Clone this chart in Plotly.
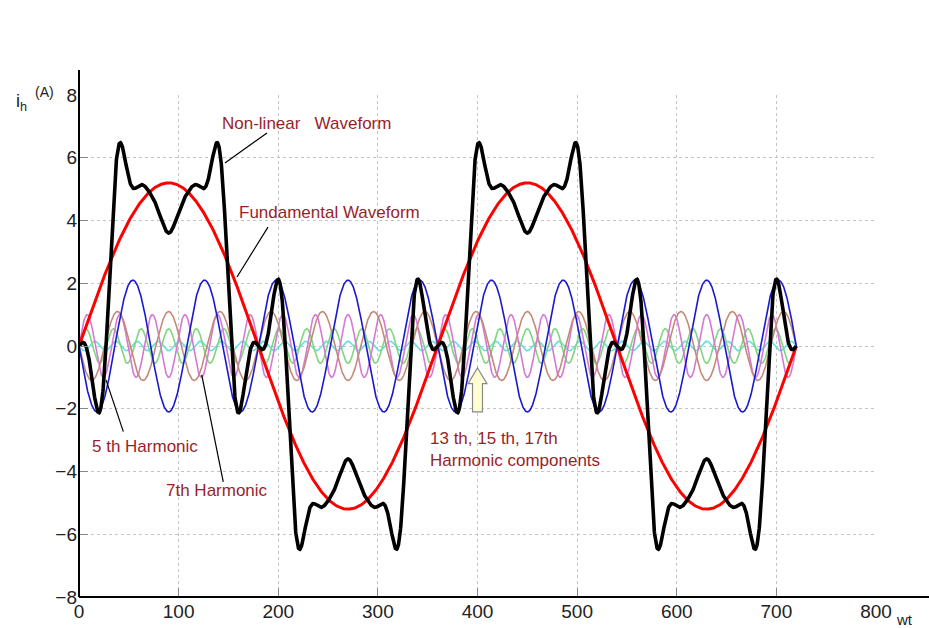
import numpy as np
import plotly.graph_objects as go

# ---- data ----
# harmonic orders and peak amplitudes (A); sign gives the phase (sin / -sin)
harmonic_orders = [1, 5, 7, 11, 13, 17]
harmonic_amplitudes = [5.2, -2.1, -1.1, 1.0, 0.55, -0.15]
harmonic_colors = ["#ff0000", "#1a1acc", "#c48a78", "#d47ad4", "#7fd67f", "#66dede"]
harmonic_widths = [3, 1.6, 1.6, 1.6, 1.6, 1.6]

wt_max = 720
x_ticks = [0, 100, 200, 300, 400, 500, 600, 700, 800]
y_ticks = [-8, -6, -4, -2, 0, 2, 4, 6, 8]

wt = np.linspace(0, wt_max, 2881)
components = [a * np.sin(n * np.radians(wt)) for n, a in zip(harmonic_orders, harmonic_amplitudes)]
nonlinear = np.sum(components, axis=0)

fig = go.Figure()
order = [5, 4, 3, 2, 1, 0]
for i in order:
    fig.add_trace(go.Scatter(x=wt, y=components[i], mode="lines",
                             line=dict(color=harmonic_colors[i], width=harmonic_widths[i]),
                             hoverinfo="skip", showlegend=False))
fig.add_trace(go.Scatter(x=wt, y=nonlinear, mode="lines",
                         line=dict(color="black", width=3.6), showlegend=False))

txt = "#9a1e28"
FAM = "Liberation Sans, Arial"
font = dict(family=FAM, size=17, color=txt)
ann = [
    dict(x=228, y=7.08, text="Non-linear   Waveform"),
    dict(x=251, y=4.27, text="Fundamental Waveform"),
    dict(x=66, y=-3.19, text="5 th Harmonic"),
    dict(x=138.5, y=-4.62, text="7th Harmonic"),
]
for a in ann:
    fig.add_annotation(x=a["x"], y=a["y"], text=a["text"], showarrow=False,
                       font=font, xanchor="center", yanchor="middle")
fig.add_annotation(x=350.3, y=-3.3, text="13 th, 15 th, 17th<br>Harmonic components",
                   showarrow=False, font=font, xanchor="left", yanchor="middle", align="left")

# pointer lines
for (x0, y0, x1, y1) in [(146.5, 5.83, 188.7, 6.79), (158.6, 2.20, 189.7, 3.79),
                         (27.1, -1.08, 44.5, -2.73), (123.2, -0.92, 144.8, -4.33)]:
    fig.add_shape(type="line", x0=x0, y0=y0, x1=x1, y1=y1, line=dict(color="black", width=1.2))

# block arrow
fig.add_shape(type="path",
              path="M 400,-0.7 L 409.5,-1.2 L 405,-1.2 L 405,-2.1 L 395,-2.1 L 395,-1.2 L 390.5,-1.2 Z",
              fillcolor="#ffffd2", line=dict(color="#888888", width=1.2))

# axis lines with arrow on x axis
fig.add_shape(type="line", xref="paper", yref="paper", x0=0, x1=0, y0=0, y1=1.05,
              line=dict(color="black", width=2))
fig.add_shape(type="line", xref="paper", yref="paper", x0=0, x1=1.07, y0=0, y1=0,
              line=dict(color="black", width=2))
fig.add_annotation(xref="paper", yref="paper", x=1.075, y=0, ax=-12, ay=0,
                   showarrow=True, arrowhead=2, arrowsize=1.2, arrowwidth=2,
                   arrowcolor="black", text="")

# axis titles
fig.add_annotation(xref="paper", yref="paper", x=-0.082, y=0.985, text="i<sub>h</sub>",
                   showarrow=False, font=dict(family=FAM, size=18, color="#222"),
                   xanchor="left", yanchor="middle")
fig.add_annotation(xref="paper", yref="paper", x=-0.058, y=1.005, text="(A)",
                   showarrow=False, font=dict(family=FAM, size=14, color="#222"),
                   xanchor="left", yanchor="middle")
fig.add_annotation(xref="paper", yref="paper", x=1.022, y=-0.044, text="wt",
                   showarrow=False, font=dict(family=FAM, size=15, color="#222"),
                   xanchor="left", yanchor="middle")

axis_common = dict(showgrid=True, gridcolor="#c4c4c4", griddash="dot", gridwidth=1,
                   zeroline=False, showline=False, ticks="inside", ticklen=9,
                   tickcolor="#888", tickwidth=1, automargin=False,
                   tickfont=dict(family=FAM, size=19, color="#222"))
fig.update_xaxes(range=[0, 800], tickvals=x_ticks, ticklabelstandoff=1, **axis_common)
fig.update_yaxes(range=[-8, 8], tickvals=y_ticks, ticklabelstandoff=1, **axis_common)

fig.update_layout(width=929, height=628, margin=dict(l=79, r=53, t=95, b=31),
                  plot_bgcolor="white", paper_bgcolor="white")
fig.write_html("out.html")
